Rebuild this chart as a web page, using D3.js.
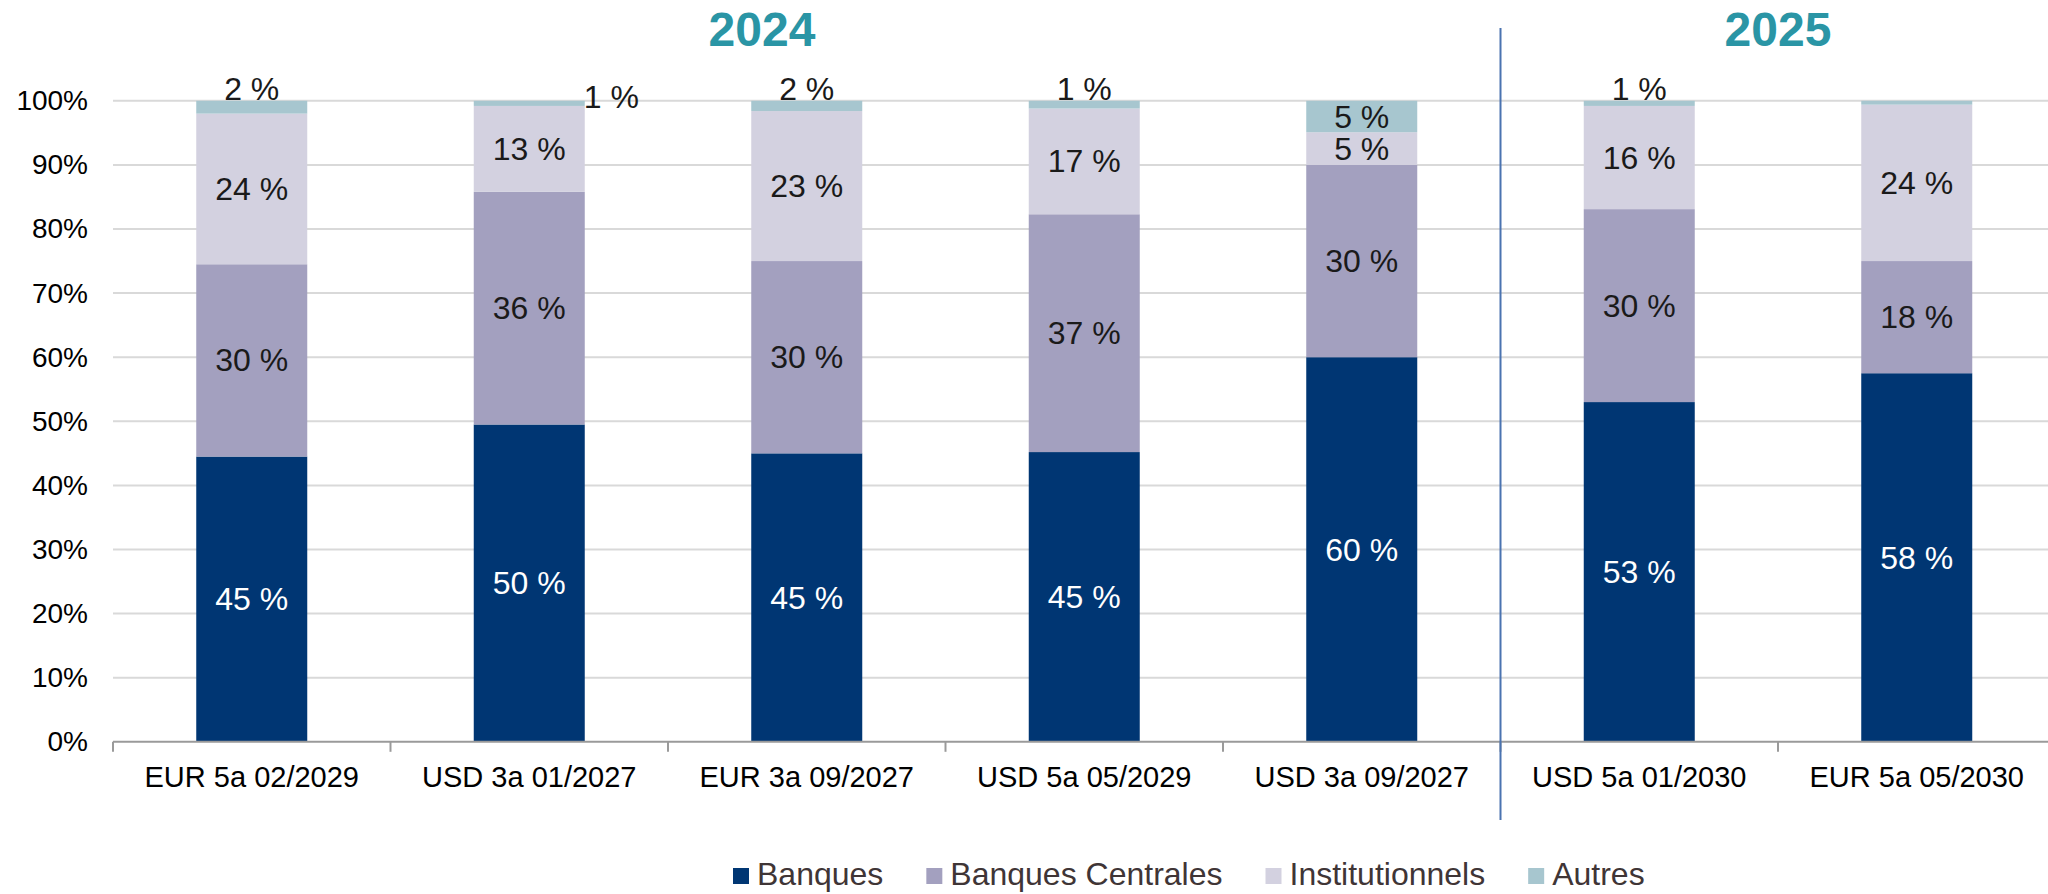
<!DOCTYPE html>
<html>
<head>
<meta charset="utf-8">
<script src="https://cdn.jsdelivr.net/npm/d3@7"></script>
<style>
  body { margin: 0; background: #fff; }
  svg { display: block; font-family: "Liberation Sans", Arial, sans-serif; }
</style>
</head>
<body>
<svg></svg>
<script>
// issues et leur répartition par type d'investisseur (en %)
var categories = ["EUR 5a 02/2029", "USD 3a 01/2027", "EUR 3a 09/2027", "USD 5a 05/2029",
                  "USD 3a 09/2027", "USD 5a 01/2030", "EUR 5a 05/2030"];
var banques          = [44.5, 49.5, 45.0, 45.2, 60.0, 53.0, 57.5];
var banquesCentrales = [30.0, 36.3, 30.0, 37.1, 30.0, 30.1, 17.5];
var institutionnels  = [23.5, 13.4, 23.4, 16.5, 5.1, 16.1, 24.4];
var autres           = [2.0, 0.8, 1.6, 1.2, 4.9, 0.8, 0.6];
var seriesNames = ["Banques", "Banques Centrales", "Institutionnels", "Autres"];
var yTicks = [0, 10, 20, 30, 40, 50, 60, 70, 80, 90, 100];
var years = [{ label: "2024", from: 0, to: 4 }, { label: "2025", from: 5, to: 6 }];

var width = 2048, height = 894;
var colors = ["#003673", "#a3a0bf", "#d3d1e0", "#a7c6cf"];

var svg = d3.select("svg").attr("width", width).attr("height", height);

var x = d3.scaleBand()
          .domain(categories)
          .range([113, 113 + 7 * 277.5])
          .paddingInner(0.6)
          .paddingOuter(0.3);
var y = d3.scaleLinear().domain([0, 100]).range([741.8, 100.8]);

var step = x.step();

// gridlines
svg.append("g")
  .selectAll("line")
  .data(yTicks.slice(1))
  .enter().append("line")
    .attr("x1", 113).attr("x2", width)
    .attr("y1", d => y(d)).attr("y2", d => y(d))
    .attr("stroke", "#d9d9d9")
    .attr("stroke-width", 2);

// stacked data
var rows = categories.map((c, i) => ({
  cat: c, "Banques": banques[i], "Banques Centrales": banquesCentrales[i],
  "Institutionnels": institutionnels[i], "Autres": autres[i], idx: i
}));
var stack = d3.stack().keys(seriesNames)(rows);

var layers = svg.selectAll(".layer")
  .data(stack)
  .enter().append("g")
    .attr("class", "layer")
    .attr("fill", (d, i) => colors[i]);

layers.selectAll("rect")
  .data(d => d)
  .enter().append("rect")
    .attr("x", d => x(d.data.cat))
    .attr("width", x.bandwidth())
    .attr("y", d => y(d[1]))
    .attr("height", d => y(d[0]) - y(d[1]));

// axis
var xAxis = d3.axisBottom(x).tickSize(0);
var gx = svg.append("g")
  .attr("transform", "translate(0," + y(0) + ")")
  .call(xAxis);
gx.select(".domain").remove();
gx.selectAll("text")
  .attr("y", 45).attr("dy", 0)
  .style("font-size", "29px")
  .attr("fill", "#000");

svg.append("line")
  .attr("x1", 113).attr("x2", width)
  .attr("y1", y(0)).attr("y2", y(0))
  .attr("stroke", "#9a9a9a").attr("stroke-width", 2);

svg.append("g")
  .selectAll("line")
  .data(d3.range(categories.length + 1))
  .enter().append("line")
    .attr("x1", i => 113 + i * step).attr("x2", i => 113 + i * step)
    .attr("y1", y(0)).attr("y2", y(0) + 10)
    .attr("stroke", "#9a9a9a").attr("stroke-width", 2);

var yAxis = d3.axisLeft(y).tickValues(yTicks).tickFormat(d => d + "%").tickSize(0).tickPadding(0);
var gy = svg.append("g")
  .attr("transform", "translate(88,0)")
  .call(yAxis);
gy.select(".domain").remove();
gy.selectAll("text")
  .style("font-size", "28px")
  .attr("fill", "#000");

// separateur 2024 / 2025
svg.append("line")
  .attr("x1", 113 + 5 * step).attr("x2", 113 + 5 * step)
  .attr("y1", 28).attr("y2", 820)
  .attr("stroke", "#4a73b0").attr("stroke-width", 2);

// titres des années
svg.selectAll(".year")
  .data(years)
  .enter().append("text")
    .attr("class", "year")
    .attr("x", (d, i) => i == 0 ? 762 : (x(categories[d.from]) + x(categories[d.to]) + x.bandwidth()) / 2)
    .attr("y", 46)
    .attr("text-anchor", "middle")
    .style("font-size", "48px")
    .style("font-weight", "bold")
    .attr("fill", "#2a95a5")
    .text(d => d.label);

// étiquettes de données
stack.forEach(function(layer, li) {
  svg.append("g").selectAll("text")
    .data(layer.filter(d => d[1] - d[0] >= 0.7))
    .enter().append("text")
      .attr("x", function(d) {
        var v = d[1] - d[0];
        var cx = x(d.data.cat) + x.bandwidth() / 2;
        if (li == 3 && v < 1 && d.data.idx == 1) return x(d.data.cat) + x.bandwidth() - 1;
        return cx;
      })
      .attr("y", function(d) {
        var v = d[1] - d[0];
        if (li == 3 && v < 3) return d.data.idx == 1 ? y(100) + 7 : y(100) - 1;
        return y((d[0] + d[1]) / 2) + 11;
      })
      .attr("text-anchor", d => (li == 3 && d.data.idx == 1) ? "start" : "middle")
      .style("font-size", "32px")
      .attr("fill", li == 0 ? "#fff" : "#1a1a1a")
      .text(d => Math.round(d[1] - d[0]) + " %");
});

// légende
var legend = svg.append("g").attr("transform", "translate(733,0)");
var lx = 0;
seriesNames.forEach(function(name, i) {
  var g = legend.append("g").attr("transform", "translate(" + lx + ",0)");
  g.append("rect").attr("x", 0).attr("y", 868).attr("width", 16).attr("height", 16).attr("fill", colors[i]);
  var t = g.append("text")
    .attr("x", 24).attr("y", 885)
    .style("font-size", "32px")
    .attr("fill", "#3f3536")
    .text(name);
  lx += 24 + t.node().getComputedTextLength() + 43;
});
</script>
</body>
</html>
